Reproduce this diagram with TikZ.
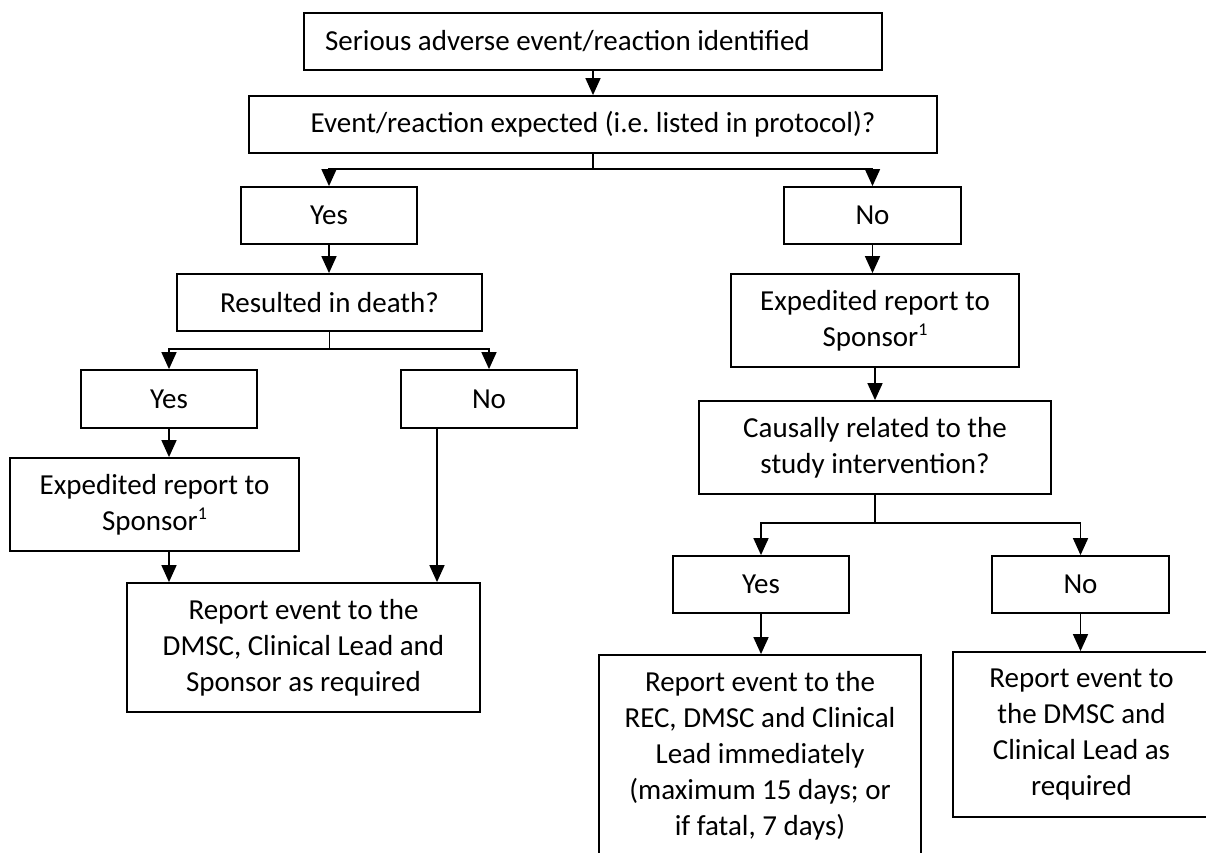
\documentclass[tikz,border=0pt]{standalone}
\usepackage{fontspec}
\setmainfont{Carlito}
\usetikzlibrary{arrows.meta,calc}
\newcommand{\supone}{\raisebox{0.36em}{\fontsize{18pt}{18pt}\selectfont 1}}
\frenchspacing
\begin{document}
\begin{tikzpicture}[x=1pt,y=-1pt,
  box/.style={draw, line width=1.8pt, inner sep=0pt, align=center,
              font=\fontsize{29pt}{36pt}\selectfont},
  arr/.style={line width=1.6pt, -{Triangle[width=15pt,length=17pt]}},
  ln/.style={line width=1.6pt}]
\useasboundingbox (0,0) rectangle (1206,853);
\fill[white] (0,0) rectangle (1206,853);

% boxes
\node[box, minimum width=578pt, minimum height=57pt] (b1) at (593,41.5) {\makebox[536pt][l]{Serious adverse event/reaction identified}};
\node[box, minimum width=688pt, minimum height=57pt] (b2) at (593,124.5) {Event/reaction expected (i.e.\ listed in protocol)?};
\node[box, minimum width=176pt, minimum height=57pt] (yes1) at (329,215.5) {Yes};
\node[box, minimum width=177pt, minimum height=57pt] (no1) at (872.5,215.5) {No};
\node[box, minimum width=305pt, minimum height=57pt] (death) at (329.5,302.5) {Resulted in death?};
\node[box, minimum width=176pt, minimum height=58pt] (yes2) at (169,399) {Yes};
\node[box, minimum width=176pt, minimum height=58pt] (no2) at (489,399) {No};
\node[box, minimum width=289pt, minimum height=93pt] (exL) at (154.5,504.5) {Expedited report to\\Sponsor\supone};
\node[box, minimum width=353pt, minimum height=129pt] (repL) at (303.5,647.5) {Report event to the\\DMSC, Clinical Lead and\\Sponsor as required};
\node[box, minimum width=288pt, minimum height=93pt] (exR) at (875,320.5) {Expedited report to\\Sponsor\supone};
\node[box, minimum width=352pt, minimum height=93pt] (caus) at (875,447.5) {Causally related to the\\study intervention?};
\node[box, minimum width=176pt, minimum height=57pt] (yes3) at (761,584.5) {Yes};
\node[box, minimum width=177pt, minimum height=57pt] (no3) at (1080.5,584.5) {No};
\node[box, minimum width=322pt, minimum height=202pt] (repM) at (760,756) {Report event to the\\REC, DMSC and Clinical\\Lead immediately\\(maximum 15 days; or\\if fatal, 7 days)};
\node[box, minimum width=257pt, minimum height=165pt] (repR) at (1081.5,734.5) {Report event to\\the DMSC and\\Clinical Lead as\\required};

% connectors
\draw[arr] (b1) -- (b2);
\coordinate (br1) at (593,169);
\draw[ln] (b2.south) -- (br1);
\draw[arr] (br1) -| (yes1.north);
\draw[arr] (br1) -| (no1.north);
\draw[arr] (yes1.south) -- (yes1.south |- death.north);
\draw[arr] (no1.south) -- (no1.south |- exR.north);

\coordinate (br2) at (329.5,349);
\draw[ln] (death.south) -- (br2);
\draw[arr] (br2) -| (yes2.north);
\draw[arr] (br2) -| (no2.north);
\draw[arr] (yes2.south) -- (yes2.south |- exL.north);
\draw[arr] (yes2.south |- exL.south) -- (yes2.south |- repL.north);
\coordinate (n2) at ([xshift=-52pt]no2.south);
\draw[arr] (n2) -- (n2 |- repL.north);

\draw[arr] (exR) -- (caus);
\coordinate (br3) at (875,523);
\draw[ln] (caus.south) -- (br3);
\draw[arr] (br3) -| (yes3.north);
\draw[arr] (br3) -| (no3.north);
\draw[arr] (yes3.south) -- (yes3.south |- repM.north);
\draw[arr] (no3.south) -- (no3.south |- repR.north);
\end{tikzpicture}
\end{document}
